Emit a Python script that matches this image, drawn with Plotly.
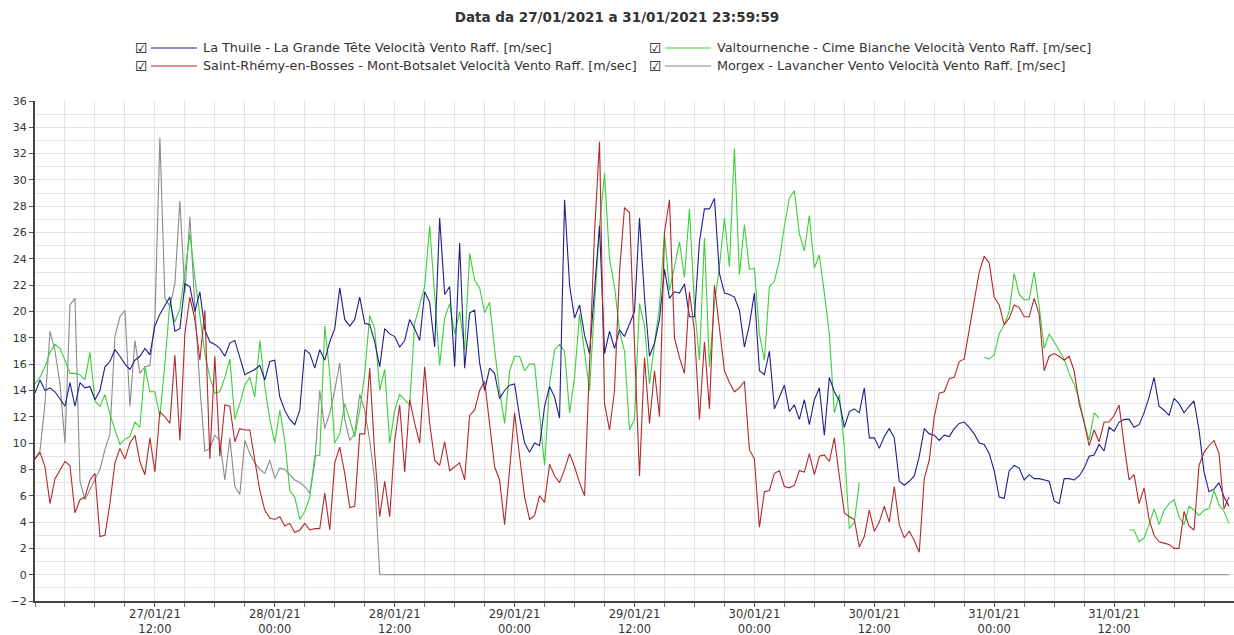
import pandas as pd
import plotly.graph_objects as go

# ---------------- DATA (half-hourly readings, one list per day) ----------------
days = ["2021-01-27", "2021-01-28", "2021-01-29", "2021-01-30", "2021-01-31"]

series_names = [
    "La Thuile - La Grande Tête Velocità Vento Raff. [m/sec]",
    "Valtournenche - Cime Bianche Velocità Vento Raff. [m/sec]",
    "Saint-Rhémy-en-Bosses - Mont-Botsalet Velocità Vento Raff. [m/sec]",
    "Morgex - Lavancher Vento Velocità Vento Raff. [m/sec]",
]

blue_27 = [13.8, 14.8, 14.0, 14.2, 13.9, 13.3, 12.8, 14.6, 12.8, 14.6, 14.2, 14.3, 13.3, 14.0, 15.8, 16.2,
           17.1, 16.6, 16.0, 15.6, 16.3, 16.6, 17.2, 16.7, 18.9, 19.8, 20.4, 21.1, 18.5, 18.7, 22.1, 21.9,
           20.0, 21.5, 18.6, 17.7, 17.5, 17.2, 16.6, 17.6, 17.8, 16.5, 15.2, 15.4, 15.6, 15.9, 14.8, 16.2]
blue_28 = [16.3, 13.5, 12.5, 11.8, 11.4, 12.5, 17.1, 16.8, 15.7, 17.1, 16.3, 17.7, 18.7, 21.8, 19.4, 18.9,
           19.4, 21.1, 19.1, 19.0, 17.7, 15.8, 18.7, 18.3, 18.1, 17.3, 17.8, 19.4, 18.7, 17.8, 21.5, 20.7,
           17.3, 27.1, 21.3, 21.9, 15.8, 25.2, 15.7, 19.9, 20.1, 16.1, 14.0, 15.7, 15.3, 13.4, 14.0, 14.4]
blue_29 = [14.5, 12.0, 10.0, 9.3, 10.0, 9.8, 12.8, 14.3, 13.5, 11.9, 28.5, 22.0, 19.5, 20.5, 18.2, 16.8,
           21.5, 26.5, 16.8, 18.5, 17.2, 18.6, 18.1, 19.1, 20.0, 27.1, 21.1, 16.6, 17.6, 19.4, 23.2, 21.0,
           21.5, 21.4, 22.1, 19.6, 19.6, 25.3, 27.8, 27.8, 28.6, 22.9, 21.4, 21.3, 21.1, 20.1, 17.3, 19.0]
blue_30 = [21.4, 15.5, 15.2, 17.0, 12.6, 13.5, 14.4, 12.4, 12.9, 11.8, 13.3, 11.4, 13.3, 14.2, 10.6, 15.0,
           13.9, 13.2, 11.2, 12.4, 12.6, 12.3, 14.2, 10.4, 10.4, 9.6, 10.5, 11.1, 10.4, 7.1, 6.8, 7.1,
           7.5, 9.0, 11.1, 10.7, 10.6, 10.2, 10.6, 10.5, 11.1, 11.5, 11.6, 11.2, 10.7, 10.0, 9.9, 9.2]
blue_31 = [7.9, 5.9, 5.8, 7.9, 8.3, 8.1, 7.2, 7.6, 7.3, 7.3, 7.2, 7.1, 5.6, 5.4, 7.3, 7.3,
           7.2, 7.5, 8.1, 9.0, 9.1, 9.9, 9.4, 11.2, 10.9, 11.6, 11.8, 11.8, 11.2, 11.4, 12.3, 13.5,
           15.0, 12.8, 12.5, 12.1, 13.4, 13.0, 12.3, 12.8, 13.2, 11.0, 7.8, 6.3, 6.5, 7.0, 5.9, 5.2]

green_27 = [14.5, 15.0, 15.8, 16.9, 17.5, 17.2, 16.3, 15.3, 15.3, 15.2, 14.8, 16.9, 13.2, 12.8, 13.7, 12.2,
            11.0, 9.9, 10.3, 10.5, 11.6, 11.2, 15.8, 13.9, 13.9, 12.0, 16.0, 20.7, 19.2, 20.2, 23.0, 25.9,
            22.6, 19.6, 16.8, 15.0, 13.8, 13.9, 15.0, 16.4, 11.8, 13.0, 14.4, 15.0, 13.5, 17.8, 14.3, 11.8]
green_28 = [10.0, 12.5, 10.2, 6.4, 5.9, 4.2, 4.8, 5.9, 9.0, 9.1, 18.9, 15.3, 10.0, 10.7, 13.0, 11.8,
            10.5, 12.5, 15.3, 19.7, 18.7, 14.0, 15.6, 10.0, 12.5, 13.7, 13.3, 12.9, 19.1, 20.4, 21.9, 26.5,
            21.4, 15.9, 19.5, 20.6, 18.3, 20.0, 17.1, 24.4, 22.4, 21.8, 19.9, 20.7, 17.1, 14.0, 11.5, 15.5]
green_29 = [16.6, 16.6, 15.5, 16.0, 16.0, 12.0, 8.3, 14.5, 17.1, 17.5, 17.0, 12.3, 15.0, 19.8, 17.0, 14.0,
            20.5, 26.5, 30.5, 24.0, 21.9, 18.5, 17.0, 11.0, 11.8, 20.6, 18.9, 14.5, 17.5, 20.4, 25.9, 21.6,
            23.4, 25.3, 22.6, 27.8, 20.4, 16.3, 25.6, 15.8, 20.6, 23.4, 27.1, 23.4, 32.4, 22.8, 26.6, 23.2]
green_30 = [23.3, 18.3, 16.3, 21.9, 22.3, 23.9, 26.5, 28.6, 29.2, 25.9, 24.6, 27.3, 23.3, 24.3, 21.4, 18.3,
            12.3, 13.7, 9.7, 3.5, 4.0, 7.0, None, None, None, None, None, None, None, None, None, None,
            None, None, None, None, None, None, None, None, None, None, None, None, None, None, 16.5, 16.4]
green_31 = [16.7, 18.3, 19.0, 20.0, 22.9, 21.3, 20.9, 20.9, 23.0, 20.4, 17.2, 18.3, 17.7, 17.1, 16.4, 15.3,
            14.5, 13.3, 11.6, 10.2, 12.3, 11.9, None, None, None, None, None, 3.4, 3.4, 2.5, 2.8, 3.8,
            5.0, 3.8, 4.9, 5.4, 5.7, 4.4, 3.8, 5.2, 4.9, 4.5, 4.9, 5.0, 6.4, 5.3, 4.8, 3.9]

red_27 = [8.8, 9.3, 8.2, 5.4, 7.3, 8.0, 8.6, 8.3, 4.7, 5.7, 5.9, 7.2, 7.7, 2.9, 3.0, 5.4,
          8.5, 9.6, 8.8, 10.0, 10.6, 8.6, 7.6, 10.4, 7.8, 12.4, 12.0, 11.5, 16.7, 10.2, 18.3, 21.1,
          19.4, 16.3, 20.1, 8.8, 16.6, 9.0, 12.9, 12.8, 10.1, 11.1, 11.0, 11.0, 8.7, 6.4, 4.9, 4.3]
red_28 = [4.2, 4.4, 3.7, 3.9, 3.2, 3.4, 3.9, 3.4, 3.5, 3.5, 6.2, 3.4, 8.5, 9.7, 7.7, 5.1,
          5.2, 10.7, 10.7, 15.7, 9.2, 4.4, 7.1, 4.4, 10.2, 12.9, 7.8, 13.3, 11.5, 10.0, 15.8, 11.5,
          8.7, 8.3, 10.1, 7.9, 8.2, 8.5, 7.2, 12.1, 12.5, 14.0, 14.7, 11.2, 8.2, 7.2, 3.8, 8.0]
red_29 = [12.3, 9.0, 5.9, 4.2, 4.5, 6.0, 5.5, 8.4, 7.5, 7.0, 8.0, 9.2, 8.2, 7.0, 6.0, 16.0,
          26.0, 32.9, 13.0, 11.0, 14.0, 23.0, 27.9, 27.5, 17.0, 7.5, 16.5, 11.5, 15.5, 12.0, 26.0, 28.5,
          18.0, 16.5, 15.3, 21.5, 18.5, 11.8, 17.7, 12.6, 22.0, 18.5, 15.5, 14.6, 13.9, 14.2, 14.7, 9.5]
red_30 = [8.8, 3.6, 6.3, 6.4, 7.7, 7.9, 6.7, 6.6, 6.8, 7.9, 7.8, 9.2, 7.6, 9.0, 9.1, 8.6,
          10.4, 7.5, 4.7, 4.4, 4.2, 2.1, 2.9, 4.9, 3.3, 4.0, 5.2, 4.0, 6.7, 3.8, 2.8, 3.3,
          2.6, 1.7, 7.3, 8.7, 12.0, 13.8, 13.9, 14.9, 15.0, 16.2, 16.4, 18.6, 20.9, 23.0, 24.2, 23.7]
red_31 = [21.1, 20.5, 19.0, 19.5, 20.5, 20.3, 19.6, 19.6, 21.0, 19.8, 15.5, 16.6, 16.8, 16.6, 16.3, 16.6,
          15.5, 13.0, 11.6, 9.8, 11.0, 10.1, 11.6, 11.6, 12.1, 12.9, 9.9, 7.2, 7.6, 5.4, 6.6, 4.2,
          3.0, 2.5, 2.4, 2.3, 2.0, 2.0, 4.8, 3.7, 3.4, 8.3, 9.3, 9.8, 10.2, 9.2, 5.0, 5.9]

grey_27 = [8.8, 9.4, 13.0, 18.5, 17.0, 14.5, 10.0, 20.5, 21.0, 7.1, 5.7, 6.5, 7.2, 8.0, 9.5, 10.7,
           18.1, 19.6, 20.1, 12.8, 17.8, 15.3, 15.8, 15.9, 19.4, 33.2, 21.0, 20.4, 22.1, 28.4, 21.4, 27.2,
           20.4, 14.3, 9.4, 9.6, 10.6, 10.2, 7.2, 10.4, 6.7, 6.1, 10.2, 9.2, 8.5, 8.0, 7.7, 8.7]
grey_28 = [7.3, 8.1, 8.0, 7.6, 7.2, 7.0, 6.7, 6.2, 8.5, 14.0, 11.1, 12.3, 14.0, 16.1, 11.8, 10.2,
           10.7, 13.7, 12.5, 10.2, 7.2, 0, 0, 0, 0, 0, 0, 0, 0, 0, 0, 0,
           0, 0, 0, 0, 0, 0, 0, 0, 0, 0, 0, 0, 0, 0, 0, 0]
grey_29 = [0, 0, 0, 0, 0, 0, 0, 0, 0, 0, 0, 0, 0, 0, 0, 0,
           0, 0, 0, 0, 0, 0, 0, 0, 0, 0, 0, 0, 0, 0, 0, 0,
           0, 0, 0, 0, 0, 0, 0, 0, 0, 0, 0, 0, 0, 0, 0, 0]
grey_30 = [0, 0, 0, 0, 0, 0, 0, 0, 0, 0, 0, 0, 0, 0, 0, 0,
           0, 0, 0, 0, 0, 0, 0, 0, 0, 0, 0, 0, 0, 0, 0, 0,
           0, 0, 0, 0, 0, 0, 0, 0, 0, 0, 0, 0, 0, 0, 0, 0]
grey_31 = [0, 0, 0, 0, 0, 0, 0, 0, 0, 0, 0, 0, 0, 0, 0, 0,
           0, 0, 0, 0, 0, 0, 0, 0, 0, 0, 0, 0, 0, 0, 0, 0,
           0, 0, 0, 0, 0, 0, 0, 0, 0, 0, 0, 0, 0, 0, 0, 0]

x_tickvals = ["2021-01-27 12:00", "2021-01-28 00:00", "2021-01-28 12:00", "2021-01-29 00:00",
              "2021-01-29 12:00", "2021-01-30 00:00", "2021-01-30 12:00", "2021-01-31 00:00",
              "2021-01-31 12:00"]
x_ticktext = ["27/01/21<br>12:00", "28/01/21<br>00:00", "28/01/21<br>12:00", "29/01/21<br>00:00",
              "29/01/21<br>12:00", "30/01/21<br>00:00", "30/01/21<br>12:00", "31/01/21<br>00:00",
              "31/01/21<br>12:00"]
y_tickvals = [-2, 0, 2, 4, 6, 8, 10, 12, 14, 16, 18, 20, 22, 24, 26, 28, 30, 32, 34, 36]

title_text = "Data da 27/01/2021 a 31/01/2021 23:59:59"

# ---------------- BUILD ----------------
def build(day_lists):
    xs, ys = [], []
    for day, vals in zip(days, day_lists):
        xs += list(pd.date_range(day, periods=len(vals), freq="30min"))
        ys += vals
    return xs, ys

colors = {"blue": "#1f1f8a", "green": "#3ccf3c", "red": "#b02a2a", "grey": "#8a8a8a"}
series = [
    ("blue", series_names[0], [blue_27, blue_28, blue_29, blue_30, blue_31]),
    ("green", series_names[1], [green_27, green_28, green_29, green_30, green_31]),
    ("red", series_names[2], [red_27, red_28, red_29, red_30, red_31]),
    ("grey", series_names[3], [grey_27, grey_28, grey_29, grey_30, grey_31]),
]

fig = go.Figure()
for key, name, lists in [series[3], series[1], series[0], series[2]]:
    xs, ys = build(lists)
    fig.add_trace(go.Scatter(x=xs, y=ys, mode="lines", name=name, showlegend=False,
                             connectgaps=False, line=dict(color=colors[key], width=1.1)))

# Layout in screen pixels (the page body margin is removed after plotting)
W, H = 1234, 635
L, T, B, R = 35, 101, 34, 0
PW, PH = W - L - R, H - T - B


def px(xs):
    return (xs - L) / PW


def py(ys):
    return (H - B - ys) / PH


FONT = "DejaVu Sans"
TXT = "#333333"

# manual legend (2 columns x 2 rows), screen pixel anchors
legend_layout = [
    (0, 141, 48), (1, 655, 48),
    (2, 141, 66), (3, 655, 66),
]
key_by_index = ["blue", "green", "red", "grey"]
annotations = []
shapes = []
for idx, cx, cy in legend_layout:
    annotations.append(dict(x=px(cx), y=py(cy), xref="paper", yref="paper", text="☑",
                            showarrow=False, xanchor="center", yanchor="middle",
                            font=dict(family=FONT, size=14, color="#111111")))
    shapes.append(dict(type="line", xref="paper", yref="paper", x0=px(cx + 10), x1=px(cx + 56),
                       y0=py(cy), y1=py(cy), line=dict(color=colors[key_by_index[idx]], width=1.2)))
    annotations.append(dict(x=px(cx + 60), y=py(cy), xref="paper", yref="paper",
                            text=series_names[idx], showarrow=False, xanchor="left", yanchor="middle",
                            font=dict(family=FONT, size=12.8, color=TXT)))

grid = "#e4e4e4"
fig.update_layout(
    width=W, height=H,
    margin=dict(l=L, r=R, t=T, b=B, autoexpand=False),
    paper_bgcolor="white", plot_bgcolor="white",
    title=dict(text="<b>" + title_text + "</b>", x=617 / W, xanchor="center", xref="container",
               y=1 - 17 / H, yanchor="middle", yref="container",
               font=dict(family=FONT, size=13.5, color=TXT)),
    annotations=annotations,
    shapes=shapes,
    showlegend=False,
    hovermode=False,
    xaxis=dict(
        type="date", range=["2021-01-27 00:00:00", "2021-01-31 23:59:59"],
        automargin=False,
        tickmode="array", tickvals=x_tickvals, ticktext=x_ticktext,
        tickfont=dict(family=FONT, size=11.5, color=TXT),
        ticklabelstandoff=-3,
        showgrid=True, gridcolor=grid, gridwidth=1,
        ticks="outside", ticklen=4, tickcolor="#555555",
        showline=True, linecolor="#444444", linewidth=2,
        zeroline=False,
        minor=dict(dtick=3 * 3600 * 1000, tick0="2021-01-27 00:00", showgrid=True,
                   gridcolor=grid, ticks="outside", ticklen=4, tickcolor="#777777"),
    ),
    yaxis=dict(
        range=[-2, 36], tickmode="array", tickvals=y_tickvals,
        automargin=False,
        tickfont=dict(family=FONT, size=11, color=TXT),
        showgrid=True, gridcolor=grid, gridwidth=1,
        ticks="outside", ticklen=4, tickcolor="#555555",
        showline=True, linecolor="#444444", linewidth=2,
        zeroline=False,
        minor=dict(dtick=1, tick0=0, showgrid=True, gridcolor=grid),
    ),
)

fig.write_html("out.html",
               config={"displayModeBar": False, "staticPlot": True},
               post_script="document.body.style.margin='0px';document.body.style.overflow='hidden';")
